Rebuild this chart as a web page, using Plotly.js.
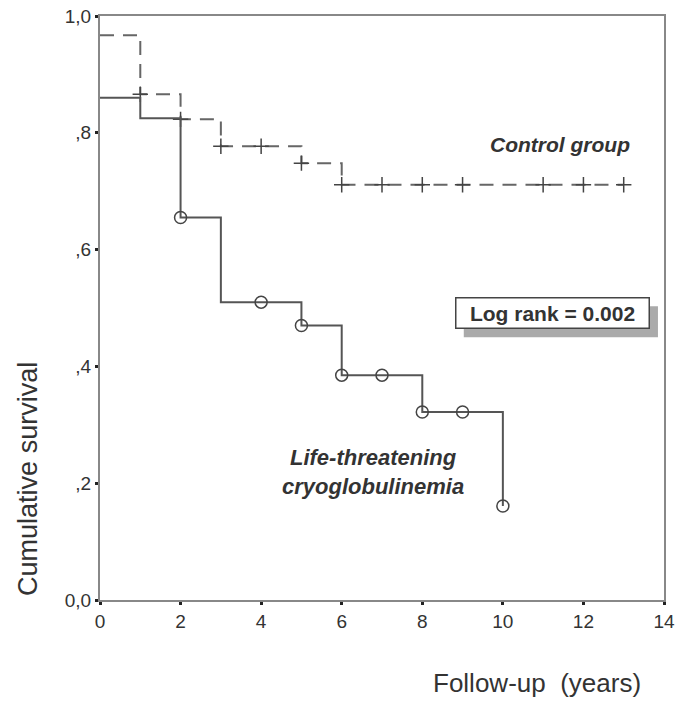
<!DOCTYPE html>
<html>
<head>
<meta charset="utf-8">
<script src="https://cdn.plot.ly/plotly-3.0.1.min.js"></script>
<style>html,body{margin:0;padding:0;background:#fff;}#chart{width:680px;height:703px;}</style>
</head>
<body>
<div id="chart"></div>
<script>
// Control group (dashed) step curve
var ctrlTimes = [0, 1, 2, 3, 5, 6, 13];
var ctrlSurv  = [0.967, 0.866, 0.823, 0.777, 0.748, 0.711, 0.711];
var ctrlCensT = [1, 2, 3, 4, 5, 6, 7, 8, 9, 11, 12, 13];
var ctrlCensS = [0.866, 0.823, 0.777, 0.777, 0.748, 0.711, 0.711, 0.711, 0.711, 0.711, 0.711, 0.711];

// Life-threatening cryoglobulinemia (solid) step curve
var lifeTimes = [0, 1, 2, 3, 5, 6, 8, 10];
var lifeSurv  = [0.86, 0.825, 0.655, 0.51, 0.47, 0.385, 0.322, 0.161];
var lifeCensT = [2, 4, 5, 6, 7, 8, 9, 10];
var lifeCensS = [0.655, 0.51, 0.47, 0.385, 0.385, 0.322, 0.322, 0.161];

var xTicks = [0, 2, 4, 6, 8, 10, 12, 14];
var yTickVals = [0, 0.2, 0.4, 0.6, 0.8, 1.0];
var yTickText = ['0,0', ',2', ',4', ',6', ',8', '1,0'];

var FONT = 'Liberation Sans, Arial, sans-serif';

var traces = [
  {x: ctrlTimes, y: ctrlSurv, mode: 'lines', line: {shape: 'hv', color: '#666', width: 2, dash: '14px,9px'}, hoverinfo: 'skip'},
  {x: ctrlCensT, y: ctrlCensS, mode: 'markers', marker: {symbol: 'cross-thin-open', size: 11, color: '#444', line: {color: '#444', width: 1.5}}, hoverinfo: 'skip'},
  {x: lifeTimes, y: lifeSurv, mode: 'lines', line: {shape: 'hv', color: '#555', width: 2}, hoverinfo: 'skip'},
  {x: lifeCensT, y: lifeCensS, mode: 'markers', marker: {symbol: 'circle-open', size: 12, color: '#444', line: {color: '#444', width: 1.5}}, hoverinfo: 'skip'}
];

var layout = {
  width: 680, height: 703,
  margin: {l: 100, r: 16, t: 16, b: 103},
  paper_bgcolor: '#fff', plot_bgcolor: '#fff',
  showlegend: false,
  font: {family: FONT, color: '#333'},
  xaxis: {
    range: [0, 14], tickvals: xTicks, ticktext: xTicks.map(String),
    showgrid: false, zeroline: false,
    showline: true, linecolor: '#888', linewidth: 2, mirror: true,
    ticks: 'outside', ticklen: 3, tickwidth: 3, tickcolor: '#222',
    tickfont: {size: 19, color: '#333', family: FONT}
  },
  yaxis: {
    range: [0, 1], tickvals: yTickVals, ticktext: yTickText,
    showgrid: false, zeroline: false,
    showline: true, linecolor: '#888', linewidth: 2, mirror: true,
    ticks: 'outside', ticklen: 3, tickwidth: 3, tickcolor: '#222',
    tickfont: {size: 19, color: '#333', family: FONT}
  },
  shapes: [
    {type: 'rect', xref: 'x', yref: 'y', x0: 9.03, x1: 13.85, y0: 0.450, y1: 0.503,
     fillcolor: '#aaa', line: {width: 0}, layer: 'above'}
  ],
  annotations: [
    {text: '<b><i>Control group</i></b>', x: 13.2, y: 0.78, xref: 'x', yref: 'y',
     xanchor: 'right', yanchor: 'middle', showarrow: false,
     font: {size: 21, color: '#333', family: FONT}},
    {text: '<b><i>Life-threatening<br>cryoglobulinemia</i></b>', x: 6.78, y: 0.22, xref: 'x', yref: 'y',
     xanchor: 'center', yanchor: 'middle', showarrow: false,
     font: {size: 22, color: '#333', family: FONT}},
    {text: '<b>Log rank = 0.002</b>', x: 11.22, y: 0.4906, xref: 'x', yref: 'y',
     xanchor: 'center', yanchor: 'middle', showarrow: false,
     width: 188, height: 25, borderpad: 2, borderwidth: 1.5, bordercolor: '#444', bgcolor: '#fff',
     font: {size: 21, color: '#333', family: FONT}},
    {text: 'Cumulative survival', x: -0.128, y: 0.207, xref: 'paper', yref: 'paper',
     xanchor: 'center', yanchor: 'middle', textangle: -90, showarrow: false,
     font: {size: 27, color: '#333', family: FONT}},
    {text: 'Follow-up&nbsp;&nbsp;(years)', x: 0.775, y: -0.142, xref: 'paper', yref: 'paper',
     xanchor: 'center', yanchor: 'middle', showarrow: false,
     font: {size: 26, color: '#333', family: FONT}}
  ]
};

Plotly.newPlot('chart', traces, layout, {displayModeBar: false, staticPlot: true});
</script>
</body>
</html>
